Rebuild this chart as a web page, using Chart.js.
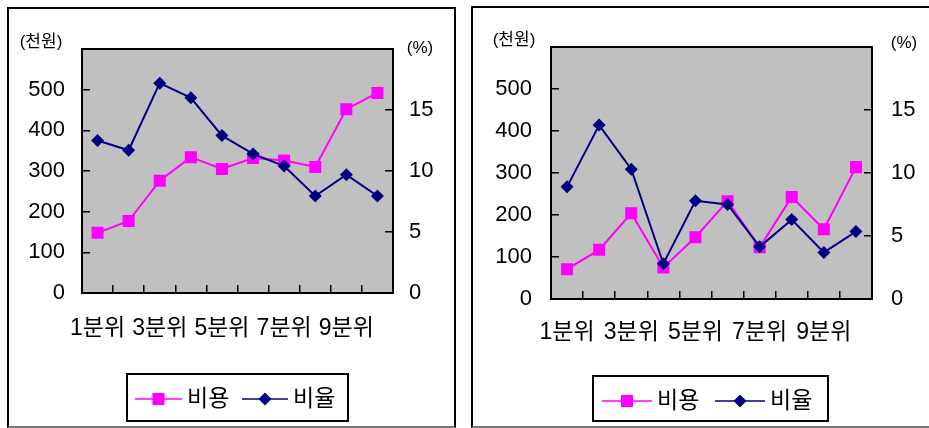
<!DOCTYPE html>
<html>
<head>
<meta charset="utf-8">
<script src="https://cdn.jsdelivr.net/npm/chart.js@4"></script>
<style>
  body { margin:0; background:#fff; width:929px; height:428px; overflow:hidden; position:relative; }
  .box { position:absolute; box-sizing:border-box; border:2px solid #000; border-bottom:2px solid #777; }
  canvas { position:absolute; top:0; }
</style>
</head>
<body>
<div class="box" style="left:7px;top:7px;width:449px;height:421px"></div>
<div class="box" style="left:471px;top:6px;width:470px;height:422px"></div>
<canvas id="c1" width="465" height="428" style="left:0"></canvas>
<canvas id="c2" width="464" height="428" style="left:465px"></canvas>
<script>
// 분위 (x축)
const categories = ['1분위','2분위','3분위','4분위','5분위','6분위','7분위','8분위','9분위','10분위'];
const seriesNames = ['비용','비율'];
// 왼쪽 그래프
const costLeft = [148, 177, 276, 334, 305, 332, 326, 310, 452, 492];
const rateLeft = [12.5, 11.7, 17.2, 16.0, 12.9, 11.4, 10.4, 7.95, 9.7, 7.95];
// 오른쪽 그래프
const costRight = [71, 117, 204, 75, 147, 233, 123, 243, 166, 314];
const rateRight = [8.9, 13.8, 10.3, 2.8, 7.8, 7.5, 4.15, 6.3, 3.7, 5.35];
// 축
const costAxis = { min: 0, max: 600, step: 100 };
const rateAxis = { min: 0, max: 20, step: 5 };
const unitCost = '(천원)';
const unitRate = '(%)';

const FONT = '"Liberation Sans", Arial, "Noto Sans CJK KR", sans-serif';
const PINK = '#ff00ff';
const NAVY = '#000080';

function marker(ctx, style, x, y, r, color) {
  ctx.fillStyle = color;
  ctx.beginPath();
  if (style === 'rect') {
    const s = Math.SQRT1_2 * r;
    ctx.rect(x - s, y - s, 2 * s, 2 * s);
  } else {
    ctx.moveTo(x, y - r); ctx.lineTo(x + r, y); ctx.lineTo(x, y + r); ctx.lineTo(x - r, y);
    ctx.closePath();
  }
  ctx.fill();
}

const panelPlugin = {
  id: 'panel',
  beforeDraw(chart) {
    const { ctx, chartArea: a } = chart;
    ctx.save();
    ctx.fillStyle = '#c0c0c0';
    ctx.fillRect(a.left, a.top, a.right - a.left, a.bottom - a.top);
    ctx.restore();
  },
  afterDraw(chart, args, o) {
    const { ctx, chartArea: a } = chart;
    ctx.save();
    // 위쪽 테두리
    ctx.strokeStyle = '#000';
    ctx.lineWidth = 2;
    ctx.beginPath(); ctx.moveTo(a.left - 1, a.top); ctx.lineTo(a.right + 1, a.top); ctx.stroke();
    // 단위
    ctx.fillStyle = '#000';
    ctx.font = '17px ' + FONT;
    ctx.textAlign = 'center'; ctx.textBaseline = 'middle';
    ctx.fillText(unitCost, o.unitL[0], o.unitL[1]);
    ctx.fillText(unitRate, o.unitR[0], o.unitR[1]);
    // 범례
    const L = o.legend;
    ctx.lineWidth = 2; ctx.strokeStyle = '#000';
    ctx.strokeRect(L.box[0], L.box[1], L.box[2], L.box[3]);
    ctx.font = '23px ' + FONT;
    ctx.textAlign = 'left';
    chart.data.datasets.forEach((ds, i) => {
      const it = L.items[i];
      ctx.strokeStyle = ds.borderColor; ctx.lineWidth = 1.5;
      ctx.beginPath(); ctx.moveTo(it[0], L.y); ctx.lineTo(it[1], L.y); ctx.stroke();
      marker(ctx, ds.pointStyle, (it[0] + it[1]) / 2, L.y, ds.pointRadius, ds.backgroundColor);
      ctx.fillStyle = '#000';
      ctx.fillText(ds.label, it[2], L.y + 1);
    });
    ctx.restore();
  }
};

function buildChart(id, cost, rate, g) {
  const yFont = { family: FONT, size: 22 };
  const xFont = { family: FONT, size: 23 };
  return new Chart(document.getElementById(id), {
    type: 'line',
    data: {
      labels: categories,
      datasets: [
        { label: seriesNames[0], data: cost, yAxisID: 'y', order: 1,
          borderColor: PINK, backgroundColor: PINK, borderWidth: 2,
          pointStyle: 'rect', pointRadius: 8.5, pointBorderWidth: 0, tension: 0 },
        { label: seriesNames[1], data: rate, yAxisID: 'y1', order: 0,
          borderColor: NAVY, backgroundColor: NAVY, borderWidth: 2,
          pointStyle: 'rectRot', pointRadius: 6.5, pointBorderWidth: 0, tension: 0 }
      ]
    },
    options: {
      responsive: false,
      animation: false,
      devicePixelRatio: 1,
      layout: { padding: { top: g.top, left: 0, right: 0, bottom: 0 } },
      plugins: {
        legend: { display: false },
        tooltip: { enabled: false },
        panel: { unitL: g.unitL, unitR: g.unitR, legend: g.legend }
      },
      scales: {
        x: {
          type: 'category', offset: true,
          grid: { offset: true, drawOnChartArea: false, tickLength: -8, color: '#000', lineWidth: 1.5 },
          border: { color: '#000', width: 2 },
          ticks: { autoSkip: false, maxRotation: 0, padding: g.xPad, color: '#000', font: xFont,
            callback(v, i) { return i % 2 === 0 ? this.getLabelForValue(v) : ''; } },
          afterFit(s) { s.height = g.xH; }
        },
        y: {
          position: 'left', min: costAxis.min, max: costAxis.max,
          grid: { drawOnChartArea: false, tickLength: -8, color: '#000', lineWidth: 1.5 },
          border: { color: '#000', width: 2 },
          ticks: { stepSize: costAxis.step, padding: g.yPad, color: '#000', font: yFont,
            callback: v => v === costAxis.max ? '' : v },
          afterFit(s) { s.width = g.yW; }
        },
        y1: {
          position: 'right', min: rateAxis.min, max: rateAxis.max,
          grid: { drawOnChartArea: false, tickLength: -8, color: '#000', lineWidth: 1.5 },
          border: { color: '#000', width: 2 },
          ticks: { stepSize: rateAxis.step, padding: g.y1Pad, color: '#000', font: yFont,
            callback: v => v === rateAxis.max ? '' : v },
          afterFit(s) { s.width = g.y1W; }
        }
      }
    },
    plugins: [panelPlugin]
  });
}

buildChart('c1', costLeft, rateLeft, {
  top: 49, yW: 82, y1W: 72, xH: 135, xPad: 30, yPad: 25, y1Pad: 24,
  unitL: [41, 42], unitR: [420, 48],
  legend: { box: [127, 374, 221, 47], y: 399, items: [[135, 182, 187], [242, 288, 293]] }
});
buildChart('c2', costRight, rateRight, {
  top: 47, yW: 86, y1W: 57, xH: 129, xPad: 28, yPad: 27, y1Pad: 27,
  unitL: [49, 40], unitR: [439, 43],
  legend: { box: [128, 376, 235, 45], y: 401, items: [[137, 187, 192], [250, 300, 305]] }
});
</script>
</body>
</html>
